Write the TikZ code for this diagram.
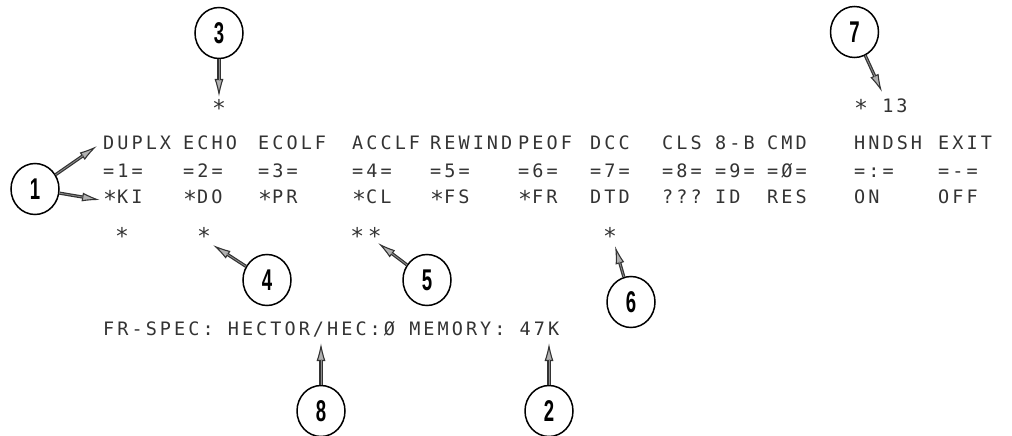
\documentclass[tikz,border=0pt]{standalone}
\usepackage{fontspec}
\usetikzlibrary{arrows.meta,shapes.geometric}
\newfontfamily\scr[LetterSpace=16.5]{DejaVu Sans Mono}
\newfontfamily\numf{Liberation Sans}
\newcommand\lo[1]{\raisebox{-0.25em}{\scalebox{1.25}{#1}}}
\newcommand\dg[1]{\scalebox{0.62}[1]{\bfseries #1}}
\begin{document}
\begin{tikzpicture}[x=1pt,y=-1pt,
  txt/.style={inner sep=0pt, anchor=base west, font=\scr\fontsize{18.5}{20}\selectfont, text=black!80},
  ast/.style={inner sep=0pt, anchor=center, font=\scr\fontsize{23}{24}\selectfont, text=black!80},
  num/.style={draw=black, line width=1.5pt, ellipse, minimum width=48pt, minimum height=51pt, inner sep=0pt,
    font=\numf\fontsize{30}{30}\selectfont},
  arr/.style={draw=black!80, line width=3.2pt, -{Latex[length=18pt,width=9pt,fill=gray!60,line width=1.1pt]}},
  core/.style={draw=black!45, line width=0.8pt, shorten >=16pt}
]
\useasboundingbox (0,0) rectangle (1012,436);

% circled numbers
\node[num] (c1) at (35,189) {\dg{1}};
\node[num] (c2) at (549,411) {\dg{2}};
\node[num] (c3) at (219,33) {\dg{3}};
\node[num] (c4) at (267,280) {\dg{4}};
\node[num] (c5) at (427,280) {\dg{5}};
\node[num] (c6) at (631,302) {\dg{6}};
\node[num] (c7) at (854.5,32) {\dg{7}};
\node[num] (c8) at (321,411) {\dg{8}};

% row 1
\node[txt] (h1) at (103,149) {DUPLX};
\node[txt] (h2) at (183,149) {ECHO};
\node[txt] (h3) at (258,149) {ECOLF};
\node[txt] (h4) at (352,149) {ACCLF};
\node[txt] (h5) at (430,149) {REWIND};
\node[txt] (h6) at (518,149) {PEOF};
\node[txt] (h7) at (590,149) {DCC};
\node[txt] (h8) at (662,149) {CLS};
\node[txt] (h9) at (715,149) {8-B};
\node[txt] (h10) at (767,149) {CMD};
\node[txt] (h11) at (854,149) {HNDSH};
\node[txt] (h12) at (938,149) {EXIT};
% row 2
\node[txt] (k1) at (103,177) {=1=};
\node[txt] (k2) at (183,177) {=2=};
\node[txt] (k3) at (258,177) {=3=};
\node[txt] (k4) at (352,177) {=4=};
\node[txt] (k5) at (430,177) {=5=};
\node[txt] (k6) at (518,177) {=6=};
\node[txt] (k7) at (590,177) {=7=};
\node[txt] (k8) at (662,177) {=8=};
\node[txt] (k9) at (715,177) {=9=};
\node[txt] (k10) at (767,177) {=Ø=};
\node[txt] (k11) at (854,177) {=:=};
\node[txt] (k12) at (938,177) {=-=};
% row 3
\node[txt] (v1) at (103,203) {\lo{*}KI};
\node[txt] (v2) at (183,203) {\lo{*}DO};
\node[txt] (v3) at (258,203) {\lo{*}PR};
\node[txt] (v4) at (352,203) {\lo{*}CL};
\node[txt] (v5) at (430,203) {\lo{*}FS};
\node[txt] (v6) at (518,203) {\lo{*}FR};
\node[txt] (v7) at (590,203) {DTD};
\node[txt] (v8) at (662,203) {???};
\node[txt] (v9) at (715,203) {ID};
\node[txt] (v10) at (767,203) {RES};
\node[txt] (v11) at (854,203) {ON};
\node[txt] (v12) at (938,203) {OFF};
% asterisks
\node[ast] (a3) at (219,108) {*};
\node[ast] (a1) at (122,236) {*};
\node[ast] (a4) at (204,236) {*};
\node[ast] (a5) at (366,236) {**};
\node[ast] (a6) at (610,236) {*};
\node[txt] (a7) at (854,112) {\lo{*} 13};
% bottom line
\node[txt] (ft) at (103,335) {FR-SPEC: HECTOR/HEC:Ø MEMORY: 47K};

% arrow tips
\coordinate (t1a) at (97,146);
\coordinate (t1b) at (100,200);
\coordinate (t3) at (219,97);
\coordinate (t7) at (882,92);
\coordinate (t4) at (213,245);
\coordinate (t5) at (378,243);
\coordinate (t6) at (615,246);
\coordinate (t8) at (321,343);
\coordinate (t2) at (549,343);

\foreach \c/\t in {c1/t1a,c1/t1b,c3/t3,c7/t7,c4/t4,c5/t5,c6/t6,c8/t8,c2/t2}{
  \draw[arr] (\c) -- (\t);
  \draw[core] (\c) -- (\t);
}
\end{tikzpicture}
\end{document}
